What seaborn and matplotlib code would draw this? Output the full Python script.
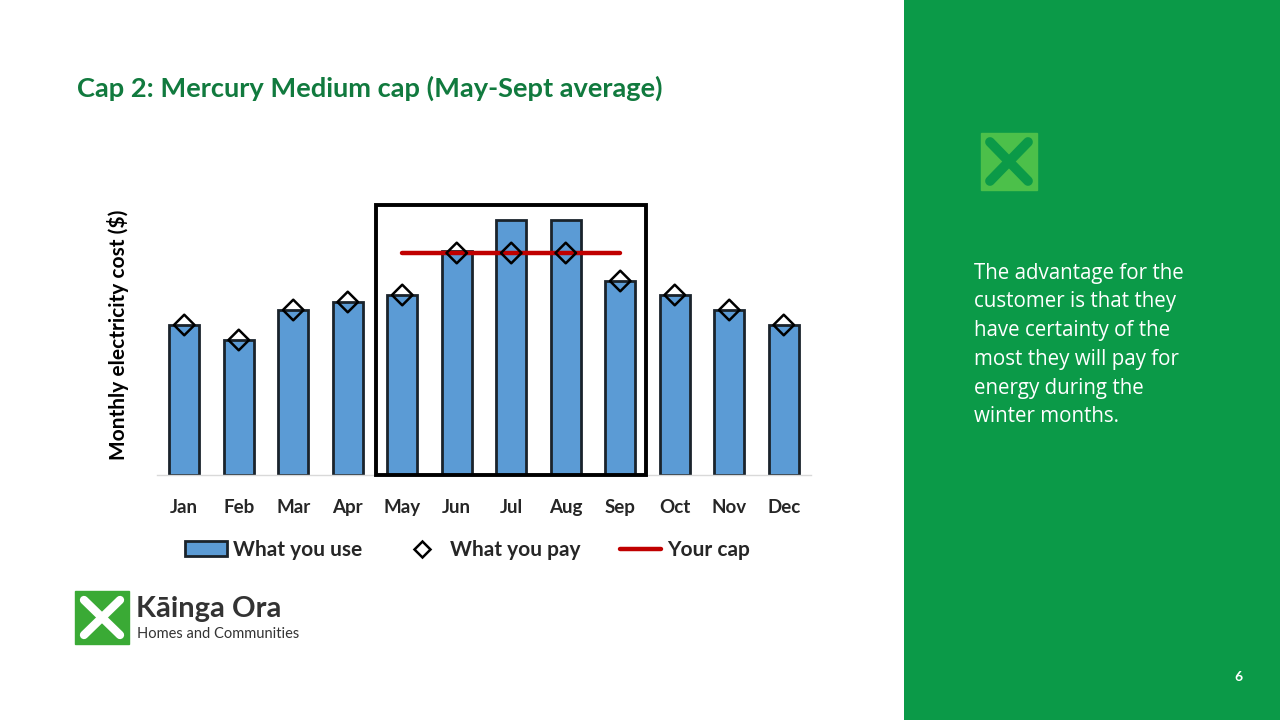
import matplotlib.pyplot as plt
from matplotlib.patches import Rectangle, Patch
from matplotlib.lines import Line2D
import numpy as np
import pandas as pd
import seaborn as sns

# chart values (arbitrary $ units)
months = ['Jan', 'Feb', 'Mar', 'Apr', 'May', 'Jun', 'Jul', 'Aug', 'Sep', 'Oct', 'Nov', 'Dec']
what_you_use = [150, 135, 165, 173, 180, 224, 255, 255, 194, 180, 165, 150]
what_you_pay = [150, 135, 165, 173, 180, 222, 222, 222, 194, 180, 165, 150]
cap_months = ['May', 'Jun', 'Jul', 'Aug', 'Sep']
cap_value = 222

title = 'Cap 2: Mercury Medium cap (May-Sept average)'
side_text = ['The advantage for the', 'customer is that they', 'have certainty of the',
             'most they will pay for', 'energy during the', 'winter months.']

sns.set_theme(style='white')
plt.rcParams['font.family'] = ['Lato', 'DejaVu Sans']

fig = plt.figure(figsize=(12.8, 7.2), dpi=100)
fig.patch.set_facecolor('white')

# green side panel
panel = fig.add_axes([904 / 1280, 0, 376 / 1280, 1])
panel.set_facecolor('#0B9A48')
panel.set_xticks([])
panel.set_yticks([])
for s in panel.spines.values():
    s.set_visible(False)
panel.set_xlim(0, 376)
panel.set_ylim(720, 0)
panel.add_patch(Rectangle((77, 133), 56, 57, color='#4CC04A'))
panel.plot([86, 124], [142, 181], color='#0B9A48', lw=7)
panel.plot([86, 124], [181, 142], color='#0B9A48', lw=7)
for i, line in enumerate(side_text):
    panel.text(70, 273 + i * 28.8, line, color='white', fontsize=14.8,
               family=['Open Sans', 'DejaVu Sans'], va='center')
panel.text(334, 677, '6', color='white', fontsize=10, fontweight='bold', ha='center', va='center')

fig.text(77 / 1280, 1 - 88 / 720, title, color='#117A3E', fontsize=19.6,
         fontweight='bold', va='center')

# logo
logo = fig.add_axes([0, 0, 1, 1], zorder=-1)
logo.set_xlim(0, 1280)
logo.set_ylim(720, 0)
logo.axis('off')
logo.add_patch(Rectangle((75, 591), 54, 53, color='#3AAA35'))
logo.plot([84, 120], [600, 635], color='white', lw=6)
logo.plot([84, 120], [635, 600], color='white', lw=6)
logo.text(136, 609, 'Kāinga Ora', color='#333333', fontsize=21, fontweight='bold', va='center')
logo.text(137, 634, 'Homes and Communities', color='#333333', fontsize=10.5, va='center')

# chart
ax = fig.add_axes([157 / 1280, (720 - 475) / 720, 654 / 1280, 280 / 720])
df = pd.DataFrame({'month': months, 'use': what_you_use, 'pay': what_you_pay})
df['pos'] = np.arange(len(months))

sns.barplot(data=df, x='month', y='use', order=months, color='#5B9BD5', saturation=1,
            width=0.55, edgecolor='#1A232B', linewidth=2, ax=ax)

cap_df = df[df['month'].isin(cap_months)].assign(cap=cap_value)
sns.lineplot(data=cap_df, x='pos', y='cap', color='#C00000', lw=3.2, ax=ax, zorder=3)

sns.scatterplot(data=df, x='pos', y='pay', marker='D', s=110, facecolor='none',
                edgecolor='black', linewidth=1.8, ax=ax, zorder=4)

first = months.index(cap_months[0])
last = months.index(cap_months[-1])
ax.add_patch(Rectangle((first - 0.48, 0), last - first + 0.96, 270, fill=False,
                       edgecolor='black', lw=2.8, zorder=5, clip_on=False))

ax.set_xlim(-0.5, len(months) - 0.5)
ax.set_ylim(0, 280)
ax.set_yticks([])
ax.set_xlabel('')
ax.set_ylabel('Monthly electricity cost ($)', fontsize=15, fontweight='bold',
              color='black', labelpad=20)
ax.tick_params(axis='x', length=0, labelsize=13.5, pad=17)
for lab in ax.get_xticklabels():
    lab.set_fontweight('bold')
for s in ['top', 'right', 'left']:
    ax.spines[s].set_visible(False)
ax.spines['bottom'].set_color('#D9D9D9')
ax.spines['bottom'].set_linewidth(1)
ax.set_facecolor('none')

handles = [Patch(facecolor='#5B9BD5', edgecolor='#1A232B', linewidth=2),
           Line2D([], [], marker='D', markersize=8, markerfacecolor='none',
                  markeredgecolor='black', markeredgewidth=1.8, linestyle='none'),
           Line2D([], [], color='#C00000', lw=3.2)]
ax.legend(handles, ['What you use', 'What you pay', 'Your cap'], loc='center',
          bbox_to_anchor=(0.475, -0.268), ncol=3, frameon=False,
          prop={'weight': 'bold', 'size': 15}, handlelength=2.0, handletextpad=0.3,
          columnspacing=1.9)

fig.savefig('out.png', dpi=100)
